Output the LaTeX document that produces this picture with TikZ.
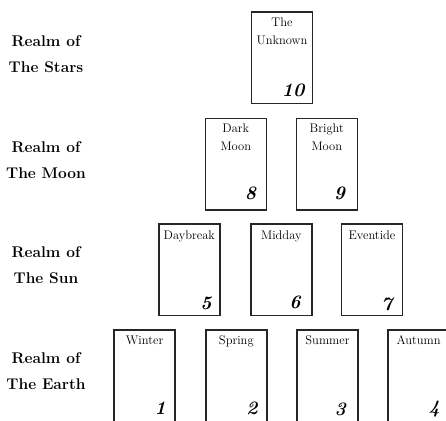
\documentclass[tikz,border=0pt]{standalone}
\begin{document}
\begin{tikzpicture}[x=1pt,y=-1pt,
  card/.style={draw=black!85,line width=1.6pt,minimum width=61pt,minimum height=91.5pt,anchor=north west,inner sep=0pt,outer sep=0pt},
  cardtext/.style={font=\fontsize{12.5}{18}\selectfont,align=center,anchor=north,inner sep=0pt,text=black},
  cardnum/.style={font=\fontsize{19}{19}\selectfont\bfseries\itshape,anchor=base east,inner sep=0pt},
  realm/.style={font=\fontsize{15.5}{26}\selectfont\bfseries,align=center,inner sep=0pt}]
\useasboundingbox (0,0) rectangle (446,420);
\clip (0,0) rectangle (446,420);
% row labels
\node[realm] (lstars) at (46,54.5) {Realm of\\The Stars};
\node[realm] (lmoon) at (46,160.5) {Realm of\\The Moon};
\node[realm] (lsun) at (46,265) {Realm of\\The Sun};
\node[realm] (learth) at (46,371) {Realm of\\The Earth};
% cards
\node[card] (c10) at (251.5,11.8) {};
\node[card] (c8) at (205.3,118.3) {};
\node[card] (c9) at (296.3,118.3) {};
\node[card] (c5) at (158.8,224.1) {};
\node[card] (c6) at (250.8,224.1) {};
\node[card] (c7) at (341.5,224.1) {};
\node[card] (c1) at (114.1,329.8) {};
\node[card] (c2) at (205.8,329.8) {};
\node[card] (c3) at (297.0,329.8) {};
\node[card] (c4) at (388.1,329.8) {};
% card titles
\node[cardtext] (t10) at ([yshift=-6pt]c10.north) {The\\Unknown};
\node[cardtext] (t8) at ([yshift=-5pt]c8.north) {Dark\\Moon};
\node[cardtext] (t9) at ([yshift=-5pt]c9.north) {Bright\\Moon};
\node[cardtext] (t5) at ([yshift=-7pt]c5.north) {Daybreak};
\node[cardtext] (t6) at ([yshift=-7pt]c6.north) {Midday};
\node[cardtext] (t7) at ([yshift=-7pt]c7.north) {Eventide};
\node[cardtext] (t1) at ([yshift=-6pt]c1.north) {Winter};
\node[cardtext] (t2) at ([yshift=-6pt]c2.north) {Spring};
\node[cardtext] (t3) at ([yshift=-6pt]c3.north) {Summer};
\node[cardtext] (t4) at ([yshift=-6pt]c4.north) {Autumn};
% numbers
\node[cardnum] (n10) at ([xshift=-8pt,yshift=7pt]c10.south east) {10};
\node[cardnum] (n8) at ([xshift=-10pt,yshift=10pt]c8.south east) {8};
\node[cardnum] (n9) at ([xshift=-12pt,yshift=10pt]c9.south east) {9};
\node[cardnum] (n5) at ([xshift=-8pt,yshift=6pt]c5.south east) {5};
\node[cardnum] (n6) at ([xshift=-11pt,yshift=7pt]c6.south east) {6};
\node[cardnum] (n7) at ([xshift=-10pt,yshift=5pt]c7.south east) {7};
\node[cardnum] (n1) at ([xshift=-9pt,yshift=7pt]c1.south east) {1};
\node[cardnum] (n2) at ([xshift=-9pt,yshift=7pt]c2.south east) {2};
\node[cardnum] (n3) at ([xshift=-12pt,yshift=6pt]c3.south east) {3};
\node[cardnum] (n4) at ([xshift=-9pt,yshift=8pt]c4.south east) {4};
\end{tikzpicture}
\end{document}
